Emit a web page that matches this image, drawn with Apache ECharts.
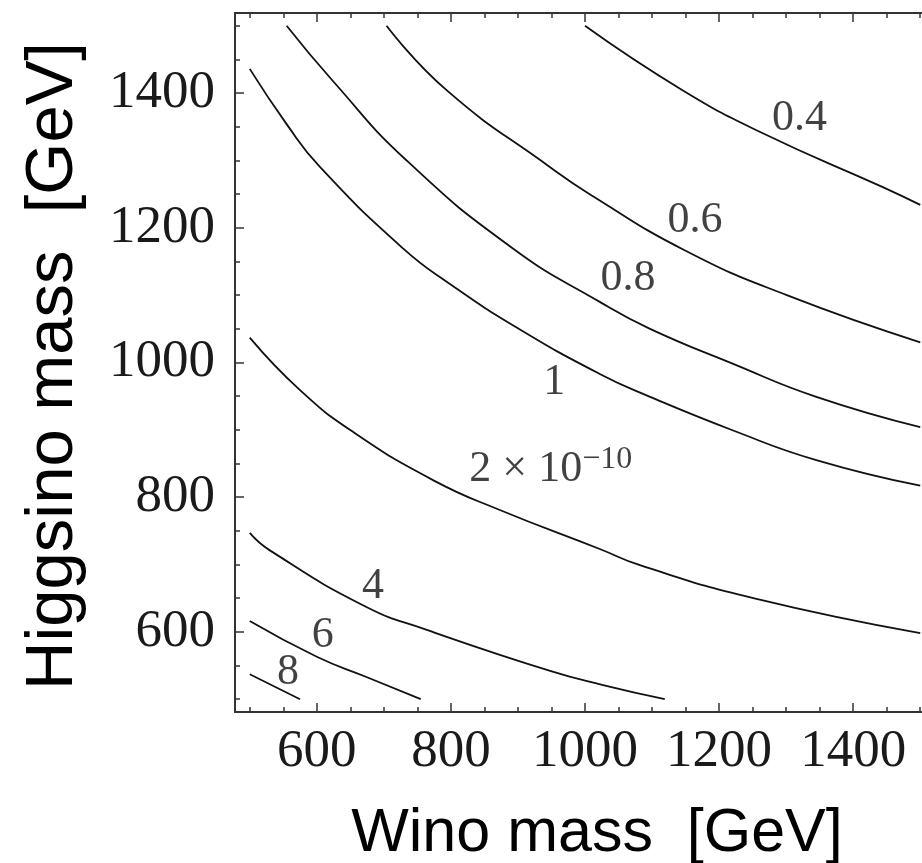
<!DOCTYPE html>
<html>
<head>
<meta charset="utf-8">
<script src="https://cdn.jsdelivr.net/npm/echarts@6/dist/echarts.min.js"></script>
<style>
    html, body { margin: 0; padding: 0; background: #fff; }
    #chart { width: 922px; height: 863px; }
</style>
</head>
<body>
<div id="chart"></div>
<script>
// contour lines, [wino mass, higgsino mass] in GeV
const c04 = [[1000, 1500], [1146, 1404], [1266, 1340], [1445, 1260], [1500, 1234]]
const c06 = [[704, 1500], [794, 1404], [948, 1290], [1007, 1250], [1150, 1166], [1301, 1100], [1500, 1030]]
const c08 = [[555, 1500], [624, 1418], [734, 1300], [893, 1169], [1022, 1090], [1097, 1050], [1221, 998], [1345, 949], [1500, 904]]
const c1 = [[500, 1436], [555, 1354], [605, 1290], [729, 1169], [798, 1117], [898, 1052], [1022, 983], [1097, 949], [1221, 899], [1345, 855], [1500, 817]]
const c2 = [[500, 1037], [575, 959], [654, 897], [774, 825], [873, 781], [1022, 723], [1082, 699], [1251, 650], [1500, 598]]
const c4 = [[500, 747], [530, 721], [674, 637], [764, 603], [948, 542], [1027, 521], [1119, 500]]
const c6 = [[500, 616], [600, 563], [674, 533], [755, 500]]
const c8 = [[500, 537], [575, 500]]

// contour labels
const labelText = ['0.4', '0.6', '0.8', '1', '{n|2 × 10}{e|−10}', '4', '6', '8']
const labelX = [1320, 1164, 1064, 954, 949, 684, 609, 557]
const labelY = [1362, 1211, 1125, 970, 841, 668, 594, 540]

// ticks
const majorTicks = [600, 800, 1000, 1200, 1400]
const minorTicks = [500, 550, 600, 650, 700, 750, 800, 850, 900, 950, 1000, 1050, 1100, 1150, 1200, 1250, 1300, 1350, 1400, 1450, 1500]

const xRange = [478, 1522]
const yRange = [481, 1519]

const serif = 'Liberation Serif'
const sans = 'Liberation Sans'
const frameColor = '#333'

function makeAxis(range, position, major, withLabels) {
    return {
        type: 'value',
        position: position,
        min: range[0],
        max: range[1],
        axisLine: { show: major, onZero: false, lineStyle: { color: frameColor, width: 2 } },
        axisTick: {
            show: true,
            inside: true,
            length: major ? 9 : 5,
            customValues: major ? majorTicks : minorTicks,
            lineStyle: { color: frameColor, width: 1.5 }
        },
        axisLabel: {
            show: withLabels,
            customValues: majorTicks,
            formatter: v => String(v),
            fontFamily: serif,
            fontSize: 53,
            color: '#1a1a1a',
            margin: position === 'bottom' ? 14 : 20
        },
        splitLine: { show: false }
    }
}

const chart = echarts.init(document.getElementById('chart'))

const curves = [c04, c06, c08, c1, c2, c4, c6, c8]

const option = {
    animation: false,
    grid: { left: 235, top: 13, width: 700, height: 699, containLabel: false, outerBoundsMode: 'none' },
    xAxis: [
        makeAxis(xRange, 'bottom', true, true),
        makeAxis(xRange, 'bottom', false, false),
        makeAxis(xRange, 'top', true, false),
        makeAxis(xRange, 'top', false, false)
    ],
    yAxis: [
        makeAxis(yRange, 'left', true, true),
        makeAxis(yRange, 'left', false, false),
        makeAxis(yRange, 'right', true, false),
        makeAxis(yRange, 'right', false, false)
    ],
    graphic: [
        {
            type: 'text',
            x: 597,
            y: 834,
            style: {
                text: 'Wino mass  [GeV]',
                font: '61px ' + sans,
                fill: '#000',
                align: 'center',
                verticalAlign: 'middle'
            }
        },
        {
            type: 'text',
            x: 54,
            y: 366,
            rotation: Math.PI / 2,
            style: {
                text: 'Higgsino mass  [GeV]',
                font: '67px ' + sans,
                fill: '#000',
                align: 'center',
                verticalAlign: 'middle'
            }
        }
    ],
    series: curves.map(c => ({
        type: 'line',
        data: c,
        smooth: 0.5,
        symbol: 'none',
        lineStyle: { color: '#111', width: 1.8 }
    })).concat([{
        type: 'scatter',
        symbolSize: 0,
        data: labelX.map((x, i) => [x, labelY[i]]),
        label: {
            show: true,
            position: 'inside',
            formatter: p => labelText[p.dataIndex],
            fontFamily: serif,
            fontSize: 44,
            color: '#111',
            rich: {
                n: { fontFamily: serif, fontSize: 44, color: '#111', lineHeight: 52 },
                e: { fontFamily: serif, fontSize: 32, color: '#111', verticalAlign: 'top', lineHeight: 32 }
            }
        }
    }])
}

chart.setOption(option)
</script>
</body>
</html>
